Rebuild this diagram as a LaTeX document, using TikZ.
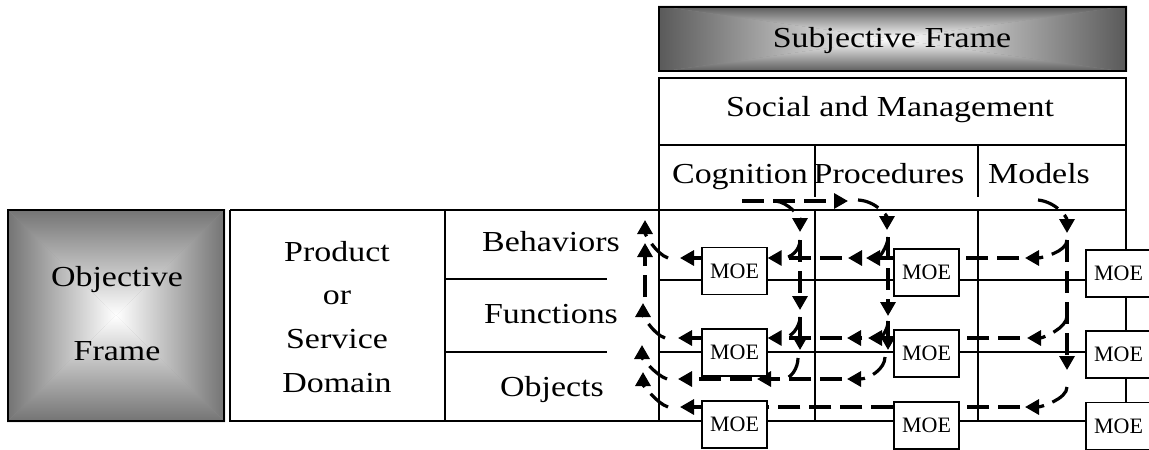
\documentclass[tikz,border=0pt]{standalone}
\usepackage{fontspec}
\setmainfont{Liberation Serif}[FakeStretch=1.17]
\newfontfamily\moefont{Liberation Serif}
\usetikzlibrary{arrows.meta}
\pgfdeclarelayer{bg}
\pgfsetlayers{bg,main}
\newcommand\gradnode[3]{%
  \fill[#3] (#1.north west) rectangle (#1.south east);
  \shade[top color=#2,bottom color=white] (#1.north west) -- (#1.north east) -- (#1.center) -- cycle;
  \shade[top color=white,bottom color=#2] (#1.south west) -- (#1.south east) -- (#1.center) -- cycle;
  \shade[left color=#2,right color=white] (#1.north west) -- (#1.south west) -- (#1.center) -- cycle;
  \shade[left color=white,right color=#2] (#1.north east) -- (#1.south east) -- (#1.center) -- cycle;
}
\begin{document}
\begin{tikzpicture}[x=0.5pt,y=-0.5pt,
  frame/.style={draw=black, line width=1pt, inner sep=0pt},
  grid/.style={line width=1pt},
  lbl/.style={font=\fontsize{14.5}{17}\selectfont, inner sep=0pt, anchor=base},
  moe/.style={draw=black, line width=0.65pt, fill=white, minimum width=32.5pt, minimum height=23.5pt, inner sep=0pt, font=\moefont\fontsize{11}{13}\selectfont},
  flow/.style={line width=1.6pt, dash pattern=on 11pt off 4.5pt},
  fa/.style={flow, -{Triangle[length=7pt,width=7.5pt]}},
]
\useasboundingbox (0,0) rectangle (1149,449);

% ---- frames with gradient ----
\node[frame, minimum width=233.5pt, minimum height=32pt] (subj) at (892.5,39) {};
\node[frame, minimum width=108pt, minimum height=105.5pt] (obj) at (116,315.5) {};
\begin{pgfonlayer}{bg}
  \gradnode{subj}{black!65}{black!45}
  \gradnode{obj}{black!55}{black!40}
\end{pgfonlayer}

% ---- table structure ----
\node[frame, minimum width=233.5pt, minimum height=33.5pt] (social) at (892.5,111.5) {};
\draw[grid] (659,145) -- (659,210);
\draw[grid] (815,145) -- (815,197);
\draw[grid] (978,145) -- (978,197);
\draw[grid] (1126,145) -- (1126,449);
\draw[grid] (230,210) -- (1126,210);
\draw[grid] (230,210) -- (230,421) -- (1126,421);
\draw[grid] (445,210) -- (445,421);
\draw[grid] (445,279) -- (607,279);
\draw[grid] (445,352) -- (607,352);
\draw[grid] (659,210) -- (659,421);
\draw[grid] (815,210) -- (815,421);
\draw[grid] (978,210) -- (978,421);
\draw[grid] (659,280) -- (1126,280);
\draw[grid] (659,352) -- (1126,352);

% ---- MOE boxes (positions) ----
\path
  (734.5,271) coordinate (p11) (926.5,272.5) coordinate (p12) (1118.5,273.5) coordinate (p13)
  (734.5,352.5) coordinate (p21) (926.5,353.5) coordinate (p22) (1118.5,354.5) coordinate (p23)
  (734.5,424.5) coordinate (p31) (926.5,425.5) coordinate (p32) (1118.5,426) coordinate (p33);

% ---- flow coordinates ----
\coordinate (t0) at (742,201);  \coordinate (t1) at (848,201);
\coordinate (a1s) at (775,201); \coordinate (a1e) at (800,232);
\coordinate (a2s) at (858,200); \coordinate (a2e) at (887,230);
\coordinate (a3s) at (1038,200);\coordinate (a3e) at (1067,233);
\coordinate (v1a) at (800,240); \coordinate (v1b) at (800,310);
\coordinate (v1c) at (800,317); \coordinate (v1d) at (800,350);
\coordinate (v1e) at (798,358);
\coordinate (v2a) at (888,237); \coordinate (v2b) at (888,316);
\coordinate (v2c) at (888,321); \coordinate (v2d) at (888,350);
\coordinate (v2e) at (885,357);
\coordinate (v3a) at (1067,240);\coordinate (v3b) at (1067,370);
\coordinate (v3c) at (1067,316);\coordinate (v3d) at (1067,387);
\coordinate (r1a) at (1025,258);\coordinate (r1b) at (1019,258);
\coordinate (r1c) at (848,258); \coordinate (r1d) at (866,258);
\coordinate (r1e) at (842,258); \coordinate (r1f) at (783,258);
\coordinate (r1g) at (680,258); \coordinate (r1h) at (668,258);
\coordinate (r2a) at (1027,338);\coordinate (r2b) at (1020,338);
\coordinate (r2c) at (847,338); \coordinate (r2d) at (868,338);
\coordinate (r2e) at (842,338); \coordinate (r2f) at (783,338);
\coordinate (r2g) at (678,338); \coordinate (r2h) at (665,338);
\coordinate (r3a) at (847,379); \coordinate (r3b) at (842,379);
\coordinate (r3c) at (757,379); \coordinate (r3d) at (783,379);
\coordinate (r3e) at (752,379); \coordinate (r3f) at (678,379);
\coordinate (r3g) at (667,379);
\coordinate (r4a) at (1025,407);\coordinate (r4b) at (1020,407);
\coordinate (r4g) at (680,407); \coordinate (r4h) at (668,407);
\coordinate (l1) at (645,220); \coordinate (l2s) at (645,297);
\coordinate (l2) at (645,243); \coordinate (l3) at (643,303);
\coordinate (l4) at (642,345); \coordinate (l5) at (643,372);

% MOE nodes are placed first invisibly so their anchors can be used
\node[moe, draw=none, fill=none] (m11) at (p11) {};
\node[moe, draw=none, fill=none] (m12) at (p12) {};
\node[moe, draw=none, fill=none] (m21) at (p21) {};
\node[moe, draw=none, fill=none] (m22) at (p22) {};
\node[moe, draw=none, fill=none] (m31) at (p31) {};
\node[moe, draw=none, fill=none] (m32) at (p32) {};

% ---- dashed flows ----
\draw[fa] (t0) -- (t1);
\draw[fa] (a1s) .. controls +(14,1) and +(0,-14) .. (a1e);
\draw[fa] (a2s) .. controls +(18,1) and +(0,-14) .. (a2e);
\draw[fa] (a3s) .. controls +(18,2) and +(0,-16) .. (a3e);
\draw[fa] (v1a) -- (v1b);
\draw[fa] (v1c) -- (v1d);
\draw[fa] (v2a) -- (v2b);
\draw[fa] (v2c) -- (v2d);
\draw[fa] (v3a) -- (v3b);
% row 1
\draw[fa] (v3a) .. controls +(0,12) and +(16,0) .. (r1a);
\draw[flow] (r1b) -- (m12.east |- r1b);
\draw[fa] (m12.west |- r1b) -- (r1c);
\draw[fa] (v2a) .. controls +(0,10) and +(12,0) .. (r1d);
\draw[fa] (r1e) -- (m11.east |- r1e);
\draw[flow] (v1a) .. controls +(0,10) and +(8,0) .. (r1f);
\draw[fa] (m11.west |- r1e) -- (r1g);
\draw[fa] (r1h) .. controls +(-12,-4) and +(0,14) .. (l1);
\draw[fa] (l2s) -- (l2);
% row 2
\draw[fa] (v3c) .. controls +(0,12) and +(16,0) .. (r2a);
\draw[flow] (r2b) -- (m22.east |- r2b);
\draw[fa] (m22.west |- r2b) -- (r2c);
\draw[fa] (v2c) .. controls +(0,10) and +(12,0) .. (r2d);
\draw[fa] (r2e) -- (m21.east |- r2e);
\draw[flow] (v1c) .. controls +(0,10) and +(8,0) .. (r2f);
\draw[fa] (m21.west |- r2e) -- (r2g);
\draw[fa] (r2h) .. controls +(-12,-4) and +(0,12) .. (l3);
% row 3
\draw[fa] (v2e) .. controls +(0,12) and +(22,0) .. (r3a);
\draw[fa] (r3b) -- (r3c);
\draw[flow] (v1e) .. controls +(0,10) and +(8,0) .. (r3d);
\draw[fa] (r3e) -- (r3f);
\draw[fa] (r3g) .. controls +(-12,-4) and +(0,12) .. (l4);
% row 4
\draw[fa] (v3d) .. controls +(0,12) and +(16,0) .. (r4a);
\draw[flow] (r4b) -- (m32.east |- r4b);
\draw[flow] (m32.west |- r4b) -- (m31.east |- r4b);
\draw[fa] (m31.west |- r4b) -- (r4g);
\draw[fa] (r4h) .. controls +(-12,-4) and +(0,12) .. (l5);

% ---- MOE boxes ----
\node[moe] (n11) at (p11) {MOE};
\node[moe] (n12) at (p12) {MOE};
\node[moe] (n13) at (p13) {MOE};
\node[moe] (n21) at (p21) {MOE};
\node[moe] (n22) at (p22) {MOE};
\node[moe] (n23) at (p23) {MOE};
\node[moe] (n31) at (p31) {MOE};
\node[moe] (n32) at (p32) {MOE};
\node[moe] (n33) at (p33) {MOE};

% ---- labels ----
\node[lbl] (subjt) at (892,47.5) {Subjective Frame};
\node[lbl] (socialt) at (890,117) {Social and Management};
\node[lbl] (cogt) at (740,183) {Cognition};
\node[lbl] (proct) at (889,183) {Procedures};
\node[lbl] (modt) at (1039,183) {Models};
\node[lbl] (behavt) at (551,251) {Behaviors};
\node[lbl] (funct) at (551,323) {Functions};
\node[lbl] (objt) at (552,396) {Objects};
\node[lbl] (pd1) at (337,261) {Product};
\node[lbl] (pd2) at (337,304.5) {or};
\node[lbl] (pd3) at (337,348) {Service};
\node[lbl] (pd4) at (337,392) {Domain};
\node[lbl] (of1) at (117,286) {Objective};
\node[lbl] (of2) at (117,360) {Frame};
\end{tikzpicture}
\end{document}
